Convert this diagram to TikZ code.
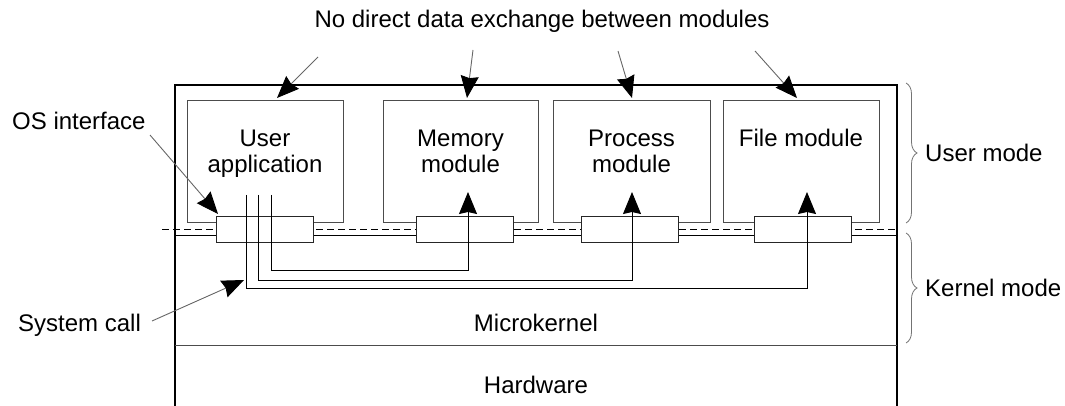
\documentclass[tikz,border=0pt]{standalone}
\usepackage{fontspec}
\setmainfont{Liberation Sans}
\usetikzlibrary{arrows.meta,decorations.pathreplacing}
\begin{document}
\begin{tikzpicture}[x=1pt,y=-1pt,
  txt/.style={font=\fontsize{24}{26}\selectfont, inner sep=0pt, align=center},
  modbox/.style={draw=black!70, line width=1pt, minimum height=122pt, inner sep=0pt, anchor=north west},
  ifbox/.style={draw=black!85, fill=white, line width=1pt, minimum width=97pt, minimum height=26pt, inner sep=0pt},
  frame/.style={line width=2.5pt},
  conn/.style={line width=1pt, -{Stealth[length=22pt,width=18pt,inset=2pt]}},
  ptr/.style={draw=black!60, line width=0.9pt, -{Stealth[length=22pt,width=18pt,inset=2pt,color=black]}},
  brc/.style={draw=black!55, line width=0.8pt, decorate, decoration={brace,amplitude=11pt}}
]
\useasboundingbox (0,0) rectangle (1065,406);
% frame
\draw[frame] (175,406) -- (175,85) -- (897,85) -- (897,406);
\draw[black!70, line width=1pt] (175,345) -- (897,345);
% mode boundary
\draw[black, line width=1pt, dash pattern=on 7pt off 4pt] (162,229) -- (897,229);
\draw[black, line width=1pt] (175,235) -- (897,235);
% modules
\node[modbox, minimum width=156pt] (ua) at (187,100) {};
\node[modbox, minimum width=155pt] (mem) at (383,100) {};
\node[modbox, minimum width=157pt] (proc) at (553,100) {};
\node[modbox, minimum width=156pt] (file) at (723,100) {};
\node[txt] (uat) at (265,154.8) {\strut User\strut\\\strut application\strut};
\node[txt] (memt) at (460.5,154.8) {\strut Memory\strut\\\strut module\strut};
\node[txt] (proct) at (631.5,154.8) {\strut Process\strut\\\strut module\strut};
\node[txt] (filet) at (801,141.8) {\strut File module\strut};
% OS interface boxes
\node[ifbox] (if1) at (264.5,229) {};
\node[ifbox] (if2) at (465,229) {};
\node[ifbox] (if3) at (629.5,229) {};
\node[ifbox] (if4) at (803,229) {};
% system call lines
\coordinate (s1) at (271,195);
\coordinate (s2) at (258,195);
\coordinate (s3) at (246,195);
\coordinate (c1) at (271,270);
\coordinate (c2) at (258,280);
\coordinate (c3) at (246,288);
\coordinate (t1) at (468,192);
\coordinate (t2) at (632,192);
\coordinate (t3) at (807,192);
\draw[conn] (s1) -- (c1) -| (t1);
\draw[conn] (s2) -- (c2) -| (t2);
\draw[conn] (s3) -- (c3) -| (t3);
% labels
\node[txt, anchor=base] (title) at (542,28) {No direct data exchange between modules};
\node[txt, anchor=base west] (osi) at (12,130) {OS interface};
\node[txt, anchor=base west] (sysc) at (18,331) {System call};
\node[txt, anchor=base west] (um) at (925,162) {User mode};
\node[txt, anchor=base west] (km) at (925,296) {Kernel mode};
\node[txt, anchor=base] (mk) at (536,331) {Microkernel};
\node[txt, anchor=base] (hw) at (536,393) {Hardware};
% pointers
\coordinate (p1) at (318,57);
\coordinate (p2) at (473,50);
\coordinate (p3) at (618,51);
\coordinate (p4) at (755,51);
\coordinate (q1) at (277,98);
\coordinate (q2) at (467,98);
\coordinate (q3) at (632,98);
\coordinate (q4) at (797,98);
\draw[ptr] (p1) -- (q1);
\draw[ptr] (p2) -- (q2);
\draw[ptr] (p3) -- (q3);
\draw[ptr] (p4) -- (q4);
\coordinate (po) at (150,135);
\coordinate (qo) at (218,214);
\draw[ptr] (po) -- (qo);
\coordinate (ps) at (152,321);
\coordinate (qs) at (244,280);
\draw[ptr] (ps) -- (qs);
% braces
\coordinate (b1) at (906,83);
\coordinate (b2) at (906,223);
\coordinate (b3) at (906,233);
\coordinate (b4) at (906,343);
\draw[brc] (b1) -- (b2);
\draw[brc] (b3) -- (b4);
\end{tikzpicture}
\end{document}
